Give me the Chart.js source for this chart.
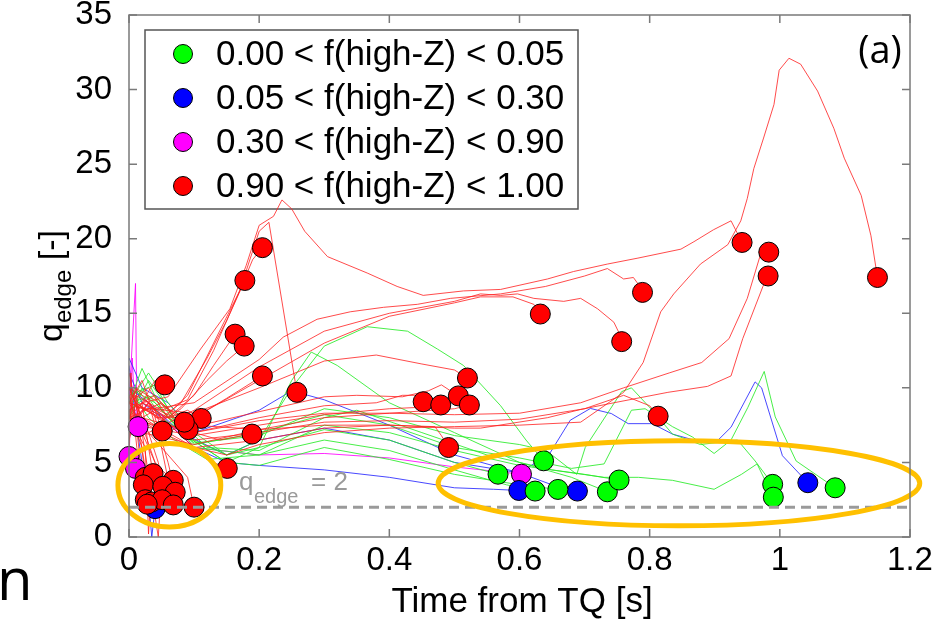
<!DOCTYPE html>
<html>
<head>
<meta charset="utf-8">
<script src="https://cdn.jsdelivr.net/npm/chart.js@4"></script>
<style>
  html, body { margin: 0; padding: 0; background: #fff; }
  #wrap { width: 943px; height: 620px; position: relative; }
</style>
</head>
<body>
<div id="wrap"><canvas id="qChart" width="943" height="620"></canvas></div>
<script>
// axis ticks
const xTicks = [0, 0.2, 0.4, 0.6, 0.8, 1, 1.2];
const yTicks = [0, 5, 10, 15, 20, 25, 30, 35];

// legend groups
const groupLabels = [
    '0.00 < f(high-Z) < 0.05',
    '0.05 < f(high-Z) < 0.30',
    '0.30 < f(high-Z) < 0.90',
    '0.90 < f(high-Z) < 1.00'
];

const qThreshold = 2;

// trajectories [time, q_edge]
const greenTracks = [
    [[0,8],[0.02,10],[0.05,8],[0.1,6.5],[0.15,5.5],[0.2,6],[0.3,7.2],[0.4,6.5],[0.5,5],[0.567,4.21]],
    [[0,9],[0.03,11],[0.06,9],[0.1,7],[0.15,5.5],[0.2,6.5],[0.25,10],[0.3,12.8],[0.366,14.1],[0.428,13.8],[0.474,12.6],[0.514,11.5],[0.571,8.8],[0.61,6.5],[0.637,5.11]],
    [[0,10],[0.03,8],[0.07,6.5],[0.12,5.2],[0.2,5.5],[0.3,6.5],[0.4,5.8],[0.5,4.5],[0.58,3.5],[0.624,3.08]],
    [[0,9.5],[0.04,10.2],[0.08,7],[0.15,5],[0.2,4.8],[0.3,6],[0.4,5.2],[0.5,4.2],[0.6,3.5],[0.659,3.19]],
    [[0,8.5],[0.03,9.5],[0.08,7],[0.15,5],[0.2,6],[0.25,10.5],[0.28,12.4],[0.32,11.5],[0.4,9],[0.5,7],[0.6,5],[0.68,4],[0.72,3.3],[0.735,3.03]],
    [[0,8],[0.03,10.5],[0.07,8],[0.12,6],[0.2,5.8],[0.3,8],[0.35,8.5],[0.45,7],[0.55,5.5],[0.65,4.5],[0.7,4.2],[0.753,3.82]],
    [[0,9],[0.02,11.3],[0.05,8.5],[0.1,6.3],[0.2,6.8],[0.3,8.6],[0.4,8],[0.5,6.8],[0.6,6.2],[0.641,5.8],[0.688,4.2],[0.701,6.0],[0.757,9.75],[0.772,10.0],[0.804,8.5],[0.835,6.9],[0.878,6.2],[0.935,6.5],[0.962,5.1],[0.989,3.53]],
    [[0,9],[0.04,9.5],[0.1,6],[0.2,5.5],[0.3,7.5],[0.4,7],[0.5,5.8],[0.6,4.8],[0.73,4.0],[0.783,4.0],[0.835,3.8],[0.899,3.2],[0.941,4.2],[0.965,4.9],[0.99,2.67]],
    [[0,10],[0.04,9],[0.1,6.2],[0.2,7],[0.3,8.2],[0.4,7.5],[0.5,6],[0.6,5.3],[0.68,4.6],[0.73,4.9],[0.772,8.5],[0.793,8.6],[0.835,7.4],[0.866,6.7],[0.899,5.6],[0.925,6.5],[0.951,8.7],[0.976,11.1],[0.993,8.05],[1.025,5.1],[1.085,3.3]]
];

const blueTracks = [
    [[0,11],[0.02,9],[0.05,8],[0.1,6],[0.15,5],[0.2,4.8],[0.3,4.5],[0.4,4.0],[0.5,3.3],[0.56,3.2],[0.599,3.12]],
    [[0,12],[0.02,10],[0.06,9],[0.1,7],[0.2,8.5],[0.25,9.8],[0.3,9.2],[0.4,7.5],[0.5,5.5],[0.6,4.3],[0.65,3.5],[0.689,3.08]],
    [[0,10],[0.03,9],[0.08,7],[0.15,5.5],[0.2,6.5],[0.3,7.3],[0.4,6.5],[0.5,5],[0.6,4.3],[0.646,5.57],[0.678,7.83],[0.709,8.62],[0.741,8.28],[0.767,7.6],[0.804,7.6],[0.835,6.9],[0.872,6.45],[0.904,6.45],[0.925,7.36],[0.962,10.4],[0.972,10.0],[1.004,5.45],[1.043,3.64]],
    [[0,11.5],[0.01,8],[0.02,5],[0.03,2.5],[0.035,0],[0.04,1.9]]
];

const magentaTracks = [
    [[0,9],[0.01,17],[0.012,8],[0.03,9],[0.1,6],[0.2,5.5],[0.3,5.6],[0.4,5.3],[0.5,4.7],[0.603,4.21]],
    [[0,5],[0.005,12],[0.01,7.4],[0.014,7.4]]
];

const redTracks = [
    // cluster near TQ
    [[0,9.5],[0.01,8],[0.02,9],[0.03,6],[0.037,4.25]],
    [[0,8],[0.01,10],[0.02,7],[0.04,5],[0.05,4.5],[0.068,3.8]],
    [[0,7],[0.005,9],[0.012,6],[0.022,3.5]],
    [[0,10],[0.015,8.5],[0.03,7],[0.045,5],[0.052,3.4]],
    [[0,9],[0.02,10.5],[0.04,8],[0.06,5],[0.071,3.0]],
    [[0,6.5],[0.01,8],[0.02,4],[0.025,2.5]],
    [[0,8.5],[0.02,6],[0.03,3],[0.035,2.35]],
    [[0,9],[0.02,7.5],[0.04,5],[0.051,2.5]],
    [[0,7.5],[0.03,9],[0.05,6],[0.068,2.15]],
    [[0,8],[0.03,7],[0.06,5.5],[0.09,4],[0.1,2.0]],
    [[0,8],[0.025,6],[0.03,0.2],[0.035,4],[0.045,2.8]],
    [[0,11],[0.02,7],[0.045,0],[0.05,3.5],[0.028,2.2]],
    [[0,5.5],[0.003,11],[0.006,7],[0.01,9.5],[0.025,4.0]],
    // rising early
    [[0,9],[0.03,8.5],[0.06,8],[0.1,9.5],[0.13,11.5],[0.163,13.6]],
    [[0,8],[0.04,7.5],[0.08,8.6],[0.12,10.5],[0.15,11.8],[0.177,12.8]],
    [[0.01,10],[0.05,8],[0.08,9],[0.12,12],[0.15,14.5],[0.178,17.2]],
    [[0.01,9],[0.05,7.8],[0.09,9.5],[0.13,13],[0.17,16.5],[0.19,18.6],[0.205,19.4]],
    [[0.01,8],[0.06,7],[0.1,8],[0.15,9.3],[0.205,10.8]],
    [[0.01,9.5],[0.05,8.5],[0.09,9.2],[0.13,12.5],[0.17,16.5],[0.2,20.5],[0.215,21.1],[0.258,9.7]],
    [[0,8],[0.05,9],[0.1,7],[0.14,6.5],[0.189,6.9]],
    [[0,9],[0.05,8],[0.1,6],[0.13,5],[0.151,4.6]],
    [[0,8],[0.02,9],[0.04,10.5],[0.055,10.2]],
    [[0,10],[0.02,8],[0.04,8.5],[0.051,7.1]],
    [[0,9],[0.03,10],[0.06,8],[0.09,8.5],[0.111,7.95]],
    [[0,7],[0.03,9],[0.06,7.5],[0.091,7.2]],
    [[0,8.5],[0.04,9.5],[0.07,8],[0.085,7.7]],
    // mid-time group
    [[0.02,8],[0.1,7],[0.2,8],[0.3,8.8],[0.38,9.0],[0.42,9.5],[0.44,9.5],[0.452,9.07]],
    [[0.01,7.5],[0.1,6.8],[0.2,7.5],[0.3,8.2],[0.4,8.6],[0.45,8.7],[0.479,8.85]],
    [[0.02,9],[0.1,7.4],[0.2,8.4],[0.3,9.4],[0.35,9.5],[0.42,9.4],[0.46,9.8],[0.48,10.2],[0.506,9.46]],
    [[0.01,8.7],[0.1,8.3],[0.2,10],[0.3,11.8],[0.38,12.2],[0.45,11.6],[0.5,11.2],[0.52,10.66]],
    [[0.02,7],[0.1,6.2],[0.2,7.2],[0.3,8.0],[0.4,8.3],[0.5,8.6],[0.523,8.85]],
    [[0.02,8],[0.1,6],[0.2,6.5],[0.3,7.3],[0.4,7.5],[0.47,7.4],[0.48,6.8],[0.491,6.0]],
    // long-lived
    [[0.02,9],[0.06,9.4],[0.11,12.6],[0.155,15.3],[0.18,18.2],[0.2,20.9],[0.222,21.5],[0.235,22.6],[0.25,22],[0.27,20.5],[0.305,18.8],[0.366,17.7],[0.412,16.8],[0.452,16.2],[0.514,16.5],[0.571,16.6],[0.643,17.3],[0.683,17.8],[0.735,18.3],[0.782,18.7],[0.848,19.3],[0.868,19.8],[0.898,20.6],[0.925,21.2],[0.932,20.6],[0.942,19.75]],
    [[0.02,8.5],[0.1,9],[0.2,11.9],[0.237,13.4],[0.289,14.6],[0.34,15.1],[0.391,15.4],[0.443,15.6],[0.494,16.0],[0.571,16.3],[0.64,16.8],[0.7,17.5],[0.735,18.0],[0.76,17.3],[0.775,17.4],[0.785,16.8],[0.789,16.4]],
    [[0.03,7],[0.1,8.5],[0.2,11.4],[0.3,13.8],[0.4,15],[0.5,15.8],[0.54,16.3],[0.571,16.2],[0.597,16.3],[0.622,16.0],[0.668,15.8],[0.694,16.0],[0.72,15.3],[0.745,14.4],[0.755,13.5],[0.757,13.1]],
    [[0.04,8],[0.1,8],[0.2,10.5],[0.3,13],[0.4,14.8],[0.5,15.7],[0.54,16.1],[0.59,16.1],[0.622,15.6],[0.632,14.95]],
    [[0.02,9],[0.1,7],[0.2,7.8],[0.3,8.3],[0.4,8.3],[0.5,8.2],[0.6,8.3],[0.694,9],[0.76,10],[0.83,11],[0.88,11.7],[0.922,13.3],[0.95,16],[0.97,18.9],[0.983,19.1]],
    [[0.01,10],[0.1,7.5],[0.2,7.2],[0.3,7.5],[0.4,7.5],[0.5,7.3],[0.54,7.3],[0.643,8.0],[0.694,8.55],[0.745,9.0],[0.828,9.7],[0.889,10.1],[0.925,10.8],[0.943,13.3],[0.974,16.8],[0.982,17.5]],
    [[0.01,9],[0.1,6.5],[0.2,7],[0.3,7.7],[0.4,7.8],[0.5,7.7],[0.6,7.9],[0.7,8.6],[0.76,9.5],[0.8,8.8],[0.813,8.1]],
    [[0.01,8],[0.05,7],[0.1,6],[0.15,5.5],[0.2,6.2],[0.3,7],[0.4,7.3],[0.5,7.4],[0.6,7.5],[0.694,7.7],[0.76,9.7],[0.79,11.7],[0.817,15.1],[0.837,16.3],[0.878,18.3],[0.92,19.6],[0.94,21.2],[0.95,22.7],[0.96,24.7],[0.975,26.75],[0.991,29.0],[0.999,31.3],[1.014,32.1],[1.032,31.7],[1.058,29.9],[1.083,27.4],[1.099,25.4],[1.125,22.9],[1.14,20.2],[1.15,17.4]]
];

// end points (last time of each discharge)
const greenEnds = [[0.567,4.21],[0.637,5.11],[0.624,3.08],[0.659,3.19],[0.735,3.03],[0.753,3.82],[0.989,3.53],[0.99,2.67],[1.085,3.3]];
const blueEnds = [[0.599,3.12],[0.689,3.08],[1.043,3.64],[0.04,1.9]];
const magentaEnds = [[0.014,7.4],[0.0,5.4],[0.01,4.6],[0.603,4.21]];
const redEnds = [
    [0.205,19.4],[0.178,17.2],[0.163,13.6],[0.177,12.8],[0.205,10.8],[0.258,9.7],[0.055,10.2],[0.189,6.9],[0.151,4.6],
    [0.051,7.1],[0.111,7.95],[0.091,7.2],[0.085,7.7],
    [0.452,9.07],[0.479,8.85],[0.506,9.46],[0.52,10.66],[0.523,8.85],[0.491,6.0],
    [0.632,14.95],[0.757,13.1],[0.789,16.4],[0.813,8.1],[0.942,19.75],[0.983,19.1],[0.982,17.5],[1.15,17.4],
    [0.025,4.0],[0.037,4.25],[0.068,3.8],[0.022,3.5],[0.052,3.4],[0.071,3.0],[0.025,2.5],[0.035,2.35],[0.051,2.5],[0.068,2.15],[0.1,2.0],[0.028,2.2]
];

// highlighted regions: centre and half-widths in data units
const ringCentres = [[0.062, 3.47], [0.845, 3.6]];
const ringHalfWidths = [[0.079, 2.8], [0.37, 2.85]];

const lineColors = ['rgba(40,235,40,0.85)', 'rgba(40,40,255,0.85)', 'rgba(255,0,255,0.85)', 'rgba(255,30,30,0.8)'];
const dotColors = ['#00ff00', '#0000ff', '#ff00ff', '#ff0000'];
const FONT = "'Liberation Sans', Arial, sans-serif";

function toXY(arr) {
    return arr.map(p => ({ x: p[0], y: p[1] }));
}

function buildDatasets() {
    const ds = [];
    const groups = [greenTracks, blueTracks, magentaTracks, redTracks];
    // red drawn first (underneath)
    [3, 0, 1, 2].forEach(g => {
        groups[g].forEach(tr => {
            ds.push({
                data: toXY(tr),
                showLine: true,
                borderColor: lineColors[g],
                borderWidth: 1,
                pointRadius: 0,
                order: 5
            });
        });
    });
    const ends = [greenEnds, blueEnds, magentaEnds, redEnds];
    [3, 0, 1, 2].forEach(g => {
        ds.push({
            data: toXY(ends[g]),
            showLine: false,
            pointRadius: 10,
            pointBackgroundColor: dotColors[g],
            pointBorderColor: '#000',
            pointBorderWidth: 1,
            clip: false,
            order: 2
        });
    });
    ds.push({
        data: [{ x: 0, y: qThreshold }, { x: 1.2, y: qThreshold }],
        showLine: true,
        borderColor: '#9a9a9a',
        borderWidth: 3,
        borderDash: [10, 6],
        pointRadius: 0,
        order: -1
    });
    return ds;
}

const decor = {
    id: 'decor',
    beforeDatasetsDraw(chart) {
        const ctx = chart.ctx;
        ctx.save();
        // legend box
        ctx.fillStyle = '#fff';
        ctx.strokeStyle = '#555';
        ctx.lineWidth = 1.5;
        ctx.fillRect(145, 30, 433, 179);
        ctx.strokeRect(145, 30, 433, 179);
        ctx.font = '35px ' + FONT;
        ctx.textBaseline = 'middle';
        ctx.textAlign = 'left';
        groupLabels.forEach((lab, i) => {
            const cy = 54 + i * 44;
            ctx.beginPath();
            ctx.arc(183, cy, 9.5, 0, Math.PI * 2);
            ctx.fillStyle = dotColors[i];
            ctx.fill();
            ctx.strokeStyle = '#000';
            ctx.lineWidth = 1;
            ctx.stroke();
            ctx.fillStyle = '#000';
            ctx.fillText(lab, 216, cy + 1);
        });
        ctx.restore();
    },
    afterDatasetsDraw(chart) {
        const ctx = chart.ctx;
        const a = chart.chartArea;
        const xs = chart.scales.x, ys = chart.scales.y;
        ctx.save();
        // highlight rings
        ctx.strokeStyle = '#ffc000';
        ctx.lineWidth = 5;
        ringCentres.forEach((c, i) => {
            const cx = xs.getPixelForValue(c[0]);
            const cy = ys.getPixelForValue(c[1]);
            const rx = xs.getPixelForValue(c[0] + ringHalfWidths[i][0]) - cx;
            const ry = cy - ys.getPixelForValue(c[1] + ringHalfWidths[i][1]);
            ctx.beginPath();
            ctx.ellipse(cx, cy, rx, ry, 0, 0, Math.PI * 2);
            ctx.stroke();
        });
        // frame and inward ticks
        ctx.strokeStyle = '#7a7a7a';
        ctx.lineWidth = 1.5;
        ctx.strokeRect(a.left, a.top, a.right - a.left, a.bottom - a.top);
        ctx.beginPath();
        xTicks.forEach(v => {
            const px = xs.getPixelForValue(v);
            ctx.moveTo(px, a.bottom); ctx.lineTo(px, a.bottom - 8);
            ctx.moveTo(px, a.top); ctx.lineTo(px, a.top + 8);
        });
        yTicks.forEach(v => {
            const py = ys.getPixelForValue(v);
            ctx.moveTo(a.left, py); ctx.lineTo(a.left + 8, py);
            ctx.moveTo(a.right, py); ctx.lineTo(a.right - 8, py);
        });
        ctx.stroke();
        // threshold label
        ctx.fillStyle = '#9a9a9a';
        ctx.textAlign = 'left';
        ctx.textBaseline = 'alphabetic';
        ctx.font = '26px ' + FONT;
        ctx.fillText('q', 239, 490);
        ctx.font = '20px ' + FONT;
        ctx.fillText('edge', 254, 503);
        ctx.font = '26px ' + FONT;
        ctx.fillText('= 2', 311, 490);
        ctx.restore();
    },
    afterDraw(chart) {
        const ctx = chart.ctx;
        ctx.save();
        ctx.fillStyle = '#000';
        ctx.textBaseline = 'alphabetic';
        // x title
        ctx.font = '35px ' + FONT;
        ctx.textAlign = 'center';
        ctx.fillText('Time from TQ [s]', 522, 612);
        // y title with subscript
        ctx.translate(62, 342);
        ctx.rotate(-Math.PI / 2);
        ctx.textAlign = 'left';
        ctx.font = '34px ' + FONT;
        ctx.fillText('q', 0, 0);
        let w = ctx.measureText('q').width;
        ctx.font = '24px ' + FONT;
        ctx.fillText('edge', w, 9);
        w += ctx.measureText('edge').width;
        ctx.font = '34px ' + FONT;
        ctx.fillText(' [-]', w, 0);
        ctx.restore();
        ctx.save();
        ctx.fillStyle = '#000';
        ctx.font = "38px 'Open Sans', sans-serif";
        ctx.textAlign = 'center';
        ctx.textBaseline = 'middle';
        ctx.fillText('(a)', 880, 52);
        ctx.font = "58px 'Open Sans', sans-serif";
        ctx.textAlign = 'left';
        ctx.textBaseline = 'alphabetic';
        ctx.fillText('n', -3, 600);
        ctx.restore();
    }
};

new Chart(document.getElementById('qChart'), {
    type: 'scatter',
    data: { datasets: buildDatasets() },
    options: {
        responsive: false,
        animation: false,
        layout: { autoPadding: false, padding: { left: 0, top: 15, right: 33, bottom: 0 } },
        scales: {
            x: {
                type: 'linear',
                min: 0, max: 1.2,
                afterBuildTicks: s => { s.ticks = xTicks.map(v => ({ value: v })); },
                afterFit: s => { s.height = 83; s.paddingLeft = 0; s.paddingRight = 0; },
                grid: { display: false },
                border: { display: false },
                ticks: {
                    color: '#000',
                    padding: -4,
                    font: { family: FONT, size: 33 },
                    callback: v => String(Number(v.toFixed(1)))
                }
            },
            y: {
                type: 'linear',
                min: 0, max: 35,
                afterBuildTicks: s => { s.ticks = yTicks.map(v => ({ value: v })); },
                afterFit: s => { s.width = 129; s.paddingTop = 0; s.paddingBottom = 0; },
                grid: { display: false },
                border: { display: false },
                ticks: {
                    color: '#000',
                    padding: 9,
                    font: { family: FONT, size: 33, lineHeight: 0.6 }
                }
            }
        },
        plugins: {
            legend: { display: false },
            tooltip: { enabled: false }
        }
    },
    plugins: [decor]
});
</script>
</body>
</html>
